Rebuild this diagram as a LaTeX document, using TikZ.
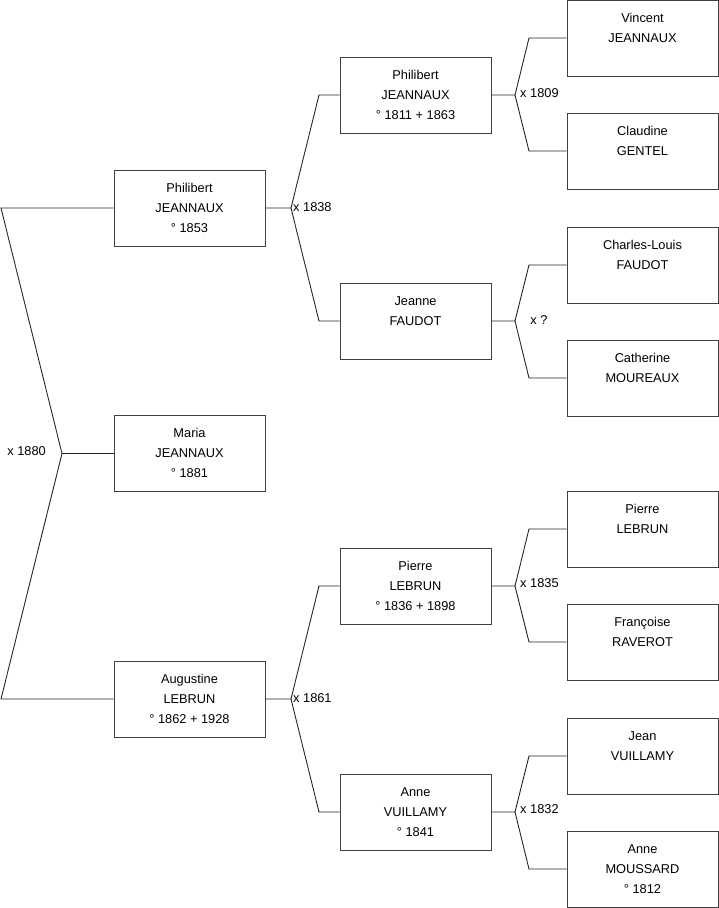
\documentclass[tikz,border=0pt]{standalone}
\usepackage{fontspec}
\setmainfont{Liberation Sans}
\begin{document}
\begin{tikzpicture}[x=1pt,y=-1pt,
  person/.style={draw=black!75,line width=1pt,fill=white,minimum width=151pt,minimum height=76pt,
    inner sep=0pt,align=center,font=\fontsize{12.8}{20}\selectfont},
  link/.style={draw=black!85,line width=0.9pt},
  marr/.style={inner sep=0pt,font=\fontsize{12.8}{15}\selectfont}]
\useasboundingbox (0,0) rectangle (719,908);
% generation 1
\node[person] (p1) at (189.5,208) {\strut Philibert\\\strut JEANNAUX\\\strut ° 1853};
\node[person] (ma) at (189.5,453.5) {\strut Maria\\\strut JEANNAUX\\\strut ° 1881};
\node[person] (au) at (189.5,699) {\strut Augustine\\\strut LEBRUN\\\strut ° 1862 + 1928};
% generation 2
\node[person] (p2) at (415.5,95) {\strut Philibert\\\strut JEANNAUX\\\strut ° 1811 + 1863};
\node[person] (jf) at (415.5,321) {\strut Jeanne\\\strut FAUDOT\\\strut};
\node[person] (pl) at (415.5,586) {\strut Pierre\\\strut LEBRUN\\\strut ° 1836 + 1898};
\node[person] (av) at (415.5,812) {\strut Anne\\\strut VUILLAMY\\\strut ° 1841};
% generation 3
\node[person] (vj) at (642.5,38) {\strut Vincent\\\strut JEANNAUX\\\strut};
\node[person] (cg) at (642.5,151) {\strut Claudine\\\strut GENTEL\\\strut};
\node[person] (cf) at (642.5,265) {\strut Charles-Louis\\\strut FAUDOT\\\strut};
\node[person] (cm) at (642.5,378) {\strut Catherine\\\strut MOUREAUX\\\strut};
\node[person] (pb) at (642.5,529) {\strut Pierre\\\strut LEBRUN\\\strut};
\node[person] (fr) at (642.5,642) {\strut Françoise\\\strut RAVEROT\\\strut};
\node[person] (jv) at (642.5,756) {\strut Jean\\\strut VUILLAMY\\\strut};
\node[person] (am) at (642.5,869) {\strut Anne\\\strut MOUSSARD\\\strut ° 1812};
% junctions
\coordinate (j0) at (62,453.5);
\coordinate (e0a) at (1,208);
\coordinate (e0b) at (1,699);
\coordinate (j1) at (291,208);
\coordinate (j2) at (291,699);
\coordinate (j3) at (515,95);
\coordinate (j4) at (515,321);
\coordinate (j5) at (515,586);
\coordinate (j6) at (515,812);
% connectors
\draw[link] (ma.west) -- (j0);
\draw[link] (j0) -- (e0a) -- (p1.west);
\draw[link] (j0) -- (e0b) -- (au.west);
\draw[link] (p1.east) -- (j1) -- (319,95) -- (p2.west);
\draw[link] (j1) -- (319,321) -- (jf.west);
\draw[link] (au.east) -- (j2) -- (319,586) -- (pl.west);
\draw[link] (j2) -- (319,812) -- (av.west);
\draw[link] (p2.east) -- (j3) -- (529,38) -- (vj.west);
\draw[link] (j3) -- (529,151) -- (cg.west);
\draw[link] (jf.east) -- (j4) -- (529,265) -- (cf.west);
\draw[link] (j4) -- (529,378) -- (cm.west);
\draw[link] (pl.east) -- (j5) -- (529,529) -- (pb.west);
\draw[link] (j5) -- (529,642) -- (fr.west);
\draw[link] (av.east) -- (j6) -- (529,756) -- (jv.west);
\draw[link] (j6) -- (529,869) -- (am.west);
% marriage labels
\node[marr,anchor=east] (m0) at (46,451.5) {x 1880};
\node[marr,anchor=west] (m1) at (293,207) {x 1838};
\node[marr,anchor=west] (m2) at (293,698) {x 1861};
\node[marr,anchor=west] (m3) at (520,93) {x 1809};
\node[marr] (m4) at (539,320) {x ?};
\node[marr,anchor=west] (m5) at (520,583) {x 1835};
\node[marr,anchor=west] (m6) at (520,809) {x 1832};
\end{tikzpicture}
\end{document}
